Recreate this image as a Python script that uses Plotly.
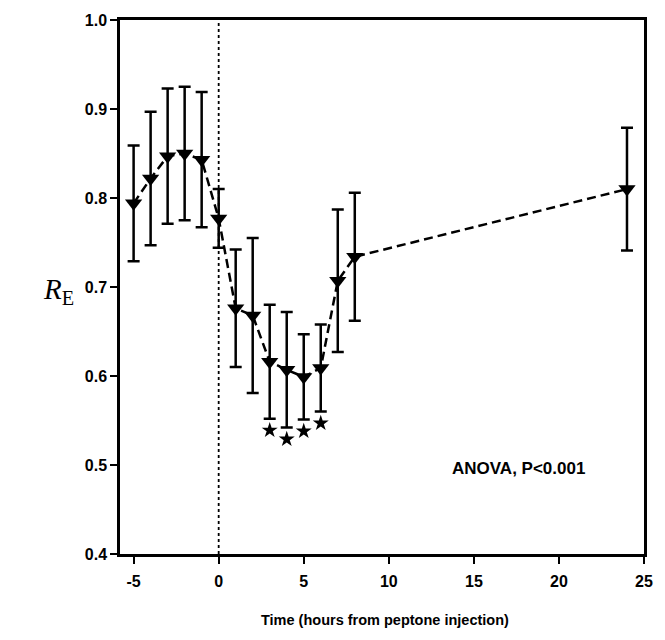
import plotly.graph_objects as go

# Hours relative to peptone injection
hours = [-5, -4, -3, -2, -1, 0, 1, 2, 3, 4, 5, 6, 7, 8, 24]
# Mean R_E at each time point
re_mean = [0.794, 0.822, 0.847, 0.850, 0.843, 0.777, 0.676, 0.668,
           0.616, 0.607, 0.599, 0.609, 0.707, 0.734, 0.810]
# Error bar half-widths
re_err = [0.065, 0.075, 0.076, 0.075, 0.076, 0.033, 0.066, 0.087,
          0.064, 0.065, 0.048, 0.049, 0.080, 0.072, 0.069]
# Time points significantly different from baseline
signif_hours = [3, 4, 5, 6]

x_ticks = [-5, 0, 5, 10, 15, 20, 25]
y_ticks = [0.4, 0.5, 0.6, 0.7, 0.8, 0.9, 1.0]

tick_font = dict(family="Liberation Sans, Arial, sans-serif", size=16, color="black")

fig = go.Figure()

# Vertical dotted line at the injection time
fig.add_shape(type="line", x0=0, x1=0, y0=0.4, y1=1.0, xref="x", yref="y",
              line=dict(color="black", width=1.8, dash="dot"))

fig.add_trace(go.Scatter(
    x=hours, y=re_mean, mode="lines+markers",
    line=dict(color="black", width=2.5, dash="9px,5px"),
    marker=dict(symbol="triangle-down", size=15, color="black"),
    error_y=dict(type="data", array=re_err, visible=True, color="black",
                 thickness=2.5, width=6),
    showlegend=False, cliponaxis=False,
))

# Significance stars just below the lower error bars
star_y = [re_mean[hours.index(h)] - re_err[hours.index(h)] - 0.013 for h in signif_hours]
fig.add_trace(go.Scatter(
    x=signif_hours, y=star_y, mode="markers",
    marker=dict(symbol="star", size=12, color="black"),
    showlegend=False,
))

fig.add_annotation(x=17.6, y=0.496, xref="x", yref="y", xanchor="center",
                   text="<b>ANOVA, P&lt;0.001</b>", showarrow=False,
                   font=dict(family="Liberation Sans, Arial, sans-serif", size=17, color="black"))

fig.add_annotation(x=-0.150, y=0.492, xref="paper", yref="paper", xanchor="left",
                   text="<i>R</i><sub>E</sub>", showarrow=False,
                   font=dict(family="Liberation Serif, Times New Roman, serif", size=29, color="black"))

fig.add_annotation(x=0.505, y=-0.123, xref="paper", yref="paper", xanchor="center",
                   yanchor="middle",
                   text="<b>Time (hours from peptone injection)</b>", showarrow=False,
                   font=dict(family="Liberation Sans, Arial, sans-serif", size=14.5, color="black"))

fig.update_xaxes(range=[-5.8, 25], tickvals=x_ticks,
                 ticktext=[f"<b>{t}</b>" for t in x_ticks],
                 ticks="outside", ticklen=7, tickwidth=2, tickcolor="black",
                 ticklabelstandoff=4,
                 showline=True, linecolor="black", linewidth=2.5, mirror=True,
                 showgrid=False, zeroline=False, tickfont=tick_font)
fig.update_yaxes(range=[0.4, 1.0], tickvals=y_ticks,
                 ticktext=[f"<b>{t:.1f}</b>" for t in y_ticks],
                 ticks="outside", ticklen=7, tickwidth=2, tickcolor="black",
                 showline=True, linecolor="black", linewidth=2.5, mirror=True,
                 showgrid=False, zeroline=False, tickfont=tick_font)

fig.update_layout(width=665, height=640, margin=dict(l=120, r=15, t=17, b=86),
                  plot_bgcolor="white", paper_bgcolor="white")

fig.write_html("out.html")
